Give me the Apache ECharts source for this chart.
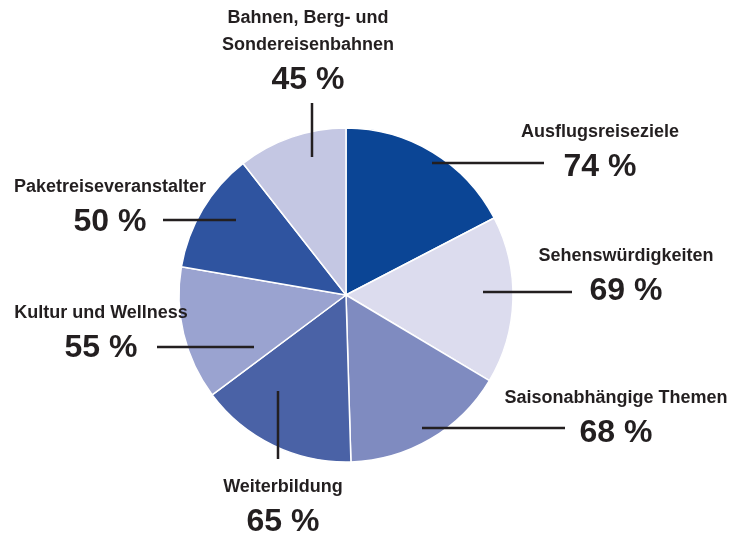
<!DOCTYPE html>
<html>
<head>
<meta charset="utf-8">
<script src="https://cdn.jsdelivr.net/npm/echarts@6/dist/echarts.min.js"></script>
<style>
  html, body { margin: 0; padding: 0; background: #fff; }
  #main { width: 737px; height: 538px; }
</style>
</head>
<body>
<div id="main"></div>
<script>
(function () {
  // data, clockwise from 12 o'clock
  var names = ['Ausflugsreiseziele', 'Sehenswürdigkeiten', 'Saisonabhängige Themen',
    'Weiterbildung', 'Kultur und Wellness', 'Paketreiseveranstalter',
    'Bahnen, Berg- und\nSondereisenbahnen'];
  var values = [74, 69, 68, 65, 55, 50, 45];
  var colors = ['#0b4595', '#dcdcee', '#7f8bc0', '#4a62a6', '#9aa3d0', '#2f54a0', '#c4c7e3'];

  // label placement: text centre x, text top y, leader line start / end
  var labelSpots = [
    { x: 600, y: 119, line: [[432, 163], [544, 163]] },
    { x: 626, y: 243, line: [[483, 292], [572, 292]] },
    { x: 616, y: 385, line: [[422, 428], [565, 428]] },
    { x: 283, y: 474, line: [[278, 391], [278, 459]] },
    { x: 101, y: 300, line: [[157, 347], [254, 347]] },
    { x: 110, y: 174, line: [[163, 220], [236, 220]] },
    { x: 308, y: 5, line: [[312, 103], [312, 157]] }
  ];

  var sliceData = names.map(function (n, i) {
    return { name: n, value: values[i], itemStyle: { color: colors[i] } };
  });
  var labelData = names.map(function (n, i) {
    return { name: n, value: values[i] };
  });

  var myChart = echarts.init(document.getElementById('main'));
  var option = {
    backgroundColor: '#fff',
    animation: false,
    series: [{
      // the slices
      type: 'pie',
      center: [346, 295],
      radius: 167,
      startAngle: 90,
      clockwise: true,
      silent: true,
      data: sliceData,
      itemStyle: { borderColor: '#fff', borderWidth: 1.5 },
      label: { show: false },
      labelLine: { show: false }
    }, {
      // same pie, see-through, only for labels so the leader lines sit on top
      type: 'pie',
      z: 5,
      center: [346, 295],
      radius: 167,
      startAngle: 90,
      clockwise: true,
      silent: true,
      data: labelData,
      itemStyle: { color: 'rgba(0,0,0,0)' },
      label: {
        show: true,
        position: 'outside',
        overflow: 'none',
        formatter: function (p) {
          return p.name.split('\n').map(function (s) { return '{n|' + s + '}'; }).join('\n') +
            '\n{v|' + p.value + ' %}';
        },
        rich: {
          n: { fontFamily: 'Liberation Sans', fontWeight: 'bold', fontSize: 18, lineHeight: 27, color: '#231f20', align: 'center' },
          v: { fontFamily: 'Liberation Sans', fontWeight: 'bold', fontSize: 32, lineHeight: 42, color: '#231f20', align: 'center' }
        }
      },
      labelLine: { show: true, lineStyle: { color: '#231f20', width: 2.5 } },
      labelLayout: function (params) {
        var s = labelSpots[params.dataIndex];
        var a = s.line[0], b = s.line[1];
        return {
          x: s.x,
          y: s.y,
          align: 'center',
          verticalAlign: 'top',
          labelLinePoints: [a, [(a[0] + b[0]) / 2, (a[1] + b[1]) / 2], b]
        };
      }
    }]
  };
  myChart.setOption(option);
  window.addEventListener('resize', function () {
    myChart.resize();
  });
})();
</script>
</body>
</html>
